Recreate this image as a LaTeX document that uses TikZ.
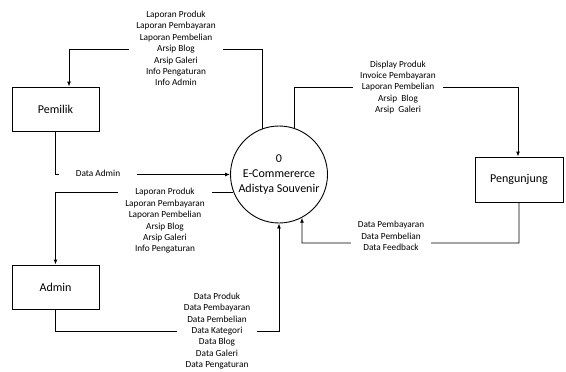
\documentclass[tikz,border=0pt]{standalone}
\usepackage{fontspec}
\setmainfont{Carlito}
\usetikzlibrary{arrows.meta}
\tikzset{entity/.style={draw, minimum width=87pt, minimum height=44pt, inner sep=0pt, font=\fontsize{12}{14}\selectfont},
  process/.style={draw, circle, minimum size=97pt, inner sep=0pt, align=center, font=\fontsize{12}{14.7}\selectfont},
  flow/.style={-{Latex[length=5pt,width=4pt]}},
  flowlabel/.style={fill=white, align=center, inner xsep=7pt, inner ysep=0pt, font=\fontsize{9.3}{11.4}\selectfont}}

\begin{document}
\begin{tikzpicture}[x=1pt, y=-1pt, line width=0.9pt]
    \useasboundingbox (0,0) rectangle (566,372);
    \node[entity] (pemilik) at (55.5,109) {Pemilik};
    \node[entity] (admin) at (55.5,287) {Admin};
    \node[entity, minimum width=88pt, minimum height=45pt] (pengunjung) at (519,179.5) {Pengunjung};
    \node[process] (proc) at (279,174.5) {0\\E-Commererce\\Adistya Souvenir};
    \coordinate (t1) at (69,49);
    \coordinate (t2) at (518,87);
    \coordinate (t5) at (279,331);
    \coordinate (t6) at (302,243);
    \draw[flow] (proc.110) |- (t1) -- (t1 |- pemilik.north);
    \draw[flow] (proc.71) |- (t2) -- (t2 |- pengunjung.north);
    \draw[flow] (pemilik.south) |- (proc.west);
    \draw[flow] (proc.201) -| (admin.north);
    \draw[flow] (admin.south) |- (t5) -- (proc.south);
    \draw[flow] (pengunjung.south) |- (t6) -- (proc.-62);
    \node[flowlabel] (l1) at (176,48.5) {Laporan Produk\\Laporan Pembayaran\\Laporan Pembelian\\Arsip Blog\\Arsip Galeri\\Info Pengaturan\\Info Admin};
    \node[flowlabel] (l2) at (398,87.5) {Display Produk\\Invoice Pembayaran\\Laporan Pembelian\\Arsip\ \ Blog\\Arsip\ \ Galeri};
    \node[flowlabel, inner xsep=17pt] (l3) at (98,173) {Data Admin};
    \node[flowlabel] (l4) at (165,221) {Laporan Produk\\Laporan Pembayaran\\Laporan Pembelian\\Arsip Blog\\Arsip Galeri\\Info Pengaturan};
    \node[flowlabel] (l5) at (217,331) {Data Produk\\Data Pembayaran\\Data Pembelian\\Data Kategori\\Data Blog\\Data Galeri\\Data Pengaturan};
    \node[flowlabel] (l6) at (391,236) {Data Pembayaran\\Data Pembelian\\Data Feedback};
  \end{tikzpicture}
\end{document}
